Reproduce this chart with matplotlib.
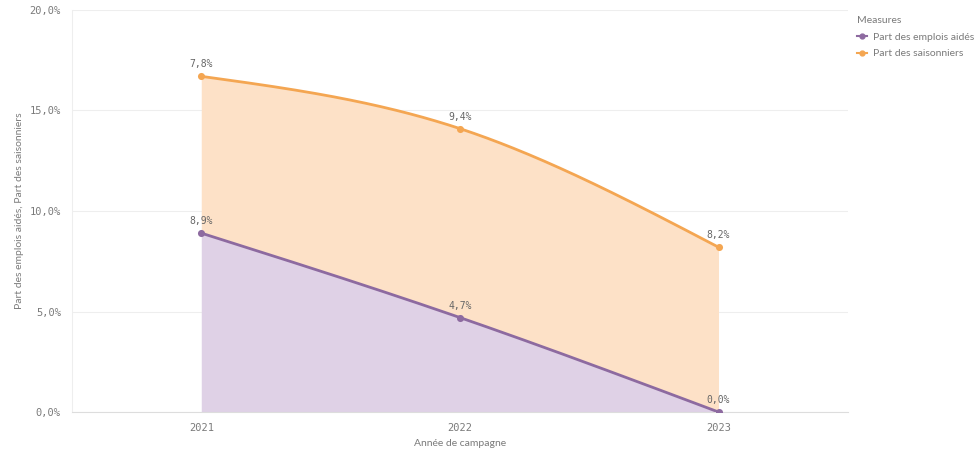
import numpy as np
import matplotlib
matplotlib.use("Agg")
import matplotlib.pyplot as plt
from matplotlib.lines import Line2D

years = ["2021", "2022", "2023"]
emplois_aides = [8.9, 4.7, 0.0]
saisonniers = [7.8, 9.4, 8.2]
yticks = [0, 5, 10, 15, 20]

C_PURPLE = "#8d6aa0"
C_PURPLE_FILL = "#dfd1e6"
C_ORANGE = "#f4a652"
C_ORANGE_FILL = "#fde1c7"
C_TEXT = "#7a7a7a"
C_GRID = "#eeeeee"


def natural_spline(x, y, n=200):
    x = np.asarray(x, float); y = np.asarray(y, float)
    k = len(x)
    h = np.diff(x)
    A = np.zeros((k, k)); r = np.zeros(k)
    A[0, 0] = A[-1, -1] = 1
    for i in range(1, k - 1):
        A[i, i - 1] = h[i - 1]; A[i, i] = 2 * (h[i - 1] + h[i]); A[i, i + 1] = h[i]
        r[i] = 6 * ((y[i + 1] - y[i]) / h[i] - (y[i] - y[i - 1]) / h[i - 1])
    M = np.linalg.solve(A, r)
    xs = np.linspace(x[0], x[-1], n)
    ys = np.empty_like(xs)
    for j, xv in enumerate(xs):
        i = min(np.searchsorted(x, xv, side="right") - 1, k - 2)
        a = x[i + 1] - xv; b = xv - x[i]
        ys[j] = (M[i] * a**3 / (6 * h[i]) + M[i + 1] * b**3 / (6 * h[i])
                 + (y[i] / h[i] - M[i] * h[i] / 6) * a
                 + (y[i + 1] / h[i] - M[i + 1] * h[i] / 6) * b)
    return xs, ys


x = np.arange(len(years))
bottom = np.array(emplois_aides)
top = bottom + np.array(saisonniers)

fig = plt.figure(figsize=(9.79, 4.54), dpi=100)
ax = fig.add_axes([0.0735, 0.0925, 0.7925, 0.8855])

xs, yb = natural_spline(x, bottom)
_, yt = natural_spline(x, top)

ax.fill_between(xs, 0, yb, color=C_PURPLE_FILL, lw=0, zorder=1)
ax.fill_between(xs, yb, yt, color=C_ORANGE_FILL, lw=0, zorder=1)
ax.plot(xs, yb, color=C_PURPLE, lw=2, zorder=3)
ax.plot(xs, yt, color=C_ORANGE, lw=2, zorder=3)
ax.scatter(x, bottom, s=26, color=C_PURPLE, zorder=4, lw=0)
ax.scatter(x, top, s=26, color=C_ORANGE, zorder=4, lw=0)

mono = "DejaVu Sans Mono"
sans = "Lato"
for xi, v, b in zip(x, emplois_aides, bottom):
    ax.annotate(f"{v:.1f}%".replace(".", ","), (xi, b), xytext=(0, 5),
                textcoords="offset points", ha="center", va="bottom",
                fontsize=7, family=mono, color="#666666", zorder=5)
for xi, v, t in zip(x, saisonniers, top):
    ax.annotate(f"{v:.1f}%".replace(".", ","), (xi, t), xytext=(0, 5),
                textcoords="offset points", ha="center", va="bottom",
                fontsize=7, family=mono, color="#666666", zorder=5)

ax.set_xlim(-0.5, len(years) - 0.5)
ax.set_ylim(0, 20)
ax.set_xticks(x)
ax.set_xticklabels(years, family=mono, fontsize=7.5, color=C_TEXT)
ax.set_yticks(yticks)
ax.set_yticklabels([f"{t:.1f}%".replace(".", ",") for t in yticks],
                   family=mono, fontsize=7.5, color=C_TEXT)
ax.tick_params(length=0, pad=8)
ax.grid(axis="y", color=C_GRID, lw=0.8)
ax.set_axisbelow(True)
for s in ["top", "right"]:
    ax.spines[s].set_visible(False)
ax.spines["left"].set_color(C_GRID)
ax.spines["bottom"].set_color("#dddddd")
ax.set_xlabel("Année de campagne", fontsize=7.5, family=sans, color=C_TEXT, labelpad=4)
ax.set_ylabel("Part des emplois aidés, Part des saisonniers", fontsize=7.5,
              family=sans, color=C_TEXT, labelpad=4)

handles = [
    Line2D([], [], color=C_PURPLE, marker="o", ms=3.5, lw=1.5),
    Line2D([], [], color=C_ORANGE, marker="o", ms=3.5, lw=1.5),
]
leg = fig.legend(handles, ["Part des emplois aidés", "Part des saisonniers"],
                 title="Measures", loc="upper left", bbox_to_anchor=(0.866, 0.985),
                 frameon=False, prop={"family": sans, "size": 7.5},
                 title_fontproperties={"family": sans, "size": 7.5},
                 handlelength=0.9, handletextpad=0.6, labelspacing=0.7,
                 labelcolor=C_TEXT)
leg.get_title().set_color(C_TEXT)
leg._legend_box.align = "left"

fig.savefig("out.png", dpi=100)
